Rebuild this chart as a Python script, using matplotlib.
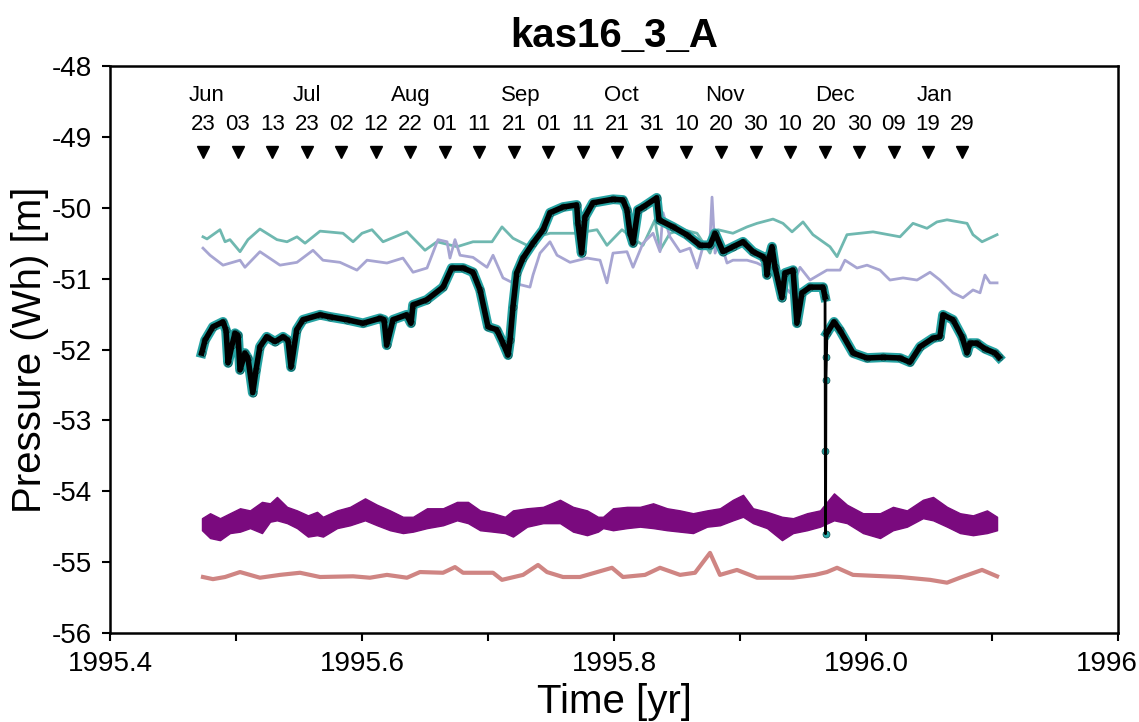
import numpy as np
import pandas as pd
import matplotlib
matplotlib.use("Agg")
import matplotlib.pyplot as plt

plt.rcParams['font.family'] = ['Liberation Sans', 'DejaVu Sans']
plt.rcParams['axes.unicode_minus'] = False

# --- pressure records (decimal year, metres) ---
wh_t = [1995.4728, 1995.4754, 1995.4817, 1995.4897, 1995.4921, 1995.4937, 1995.4968, 1995.4992,
        1995.5016, 1995.5032, 1995.5071, 1995.5095, 1995.5133, 1995.5159, 1995.5190, 1995.5244,
        1995.5310, 1995.5373, 1995.5413, 1995.5437, 1995.5482, 1995.5532, 1995.5667, 1995.5746,
        1995.5879, 1995.6008, 1995.6143, 1995.6175, 1995.6196, 1995.6246, 1995.6354, 1995.6389,
        1995.6405, 1995.6513, 1995.6643, 1995.6712, 1995.6802, 1995.6881, 1995.6937, 1995.7000,
        1995.7069, 1995.7119, 1995.7159, 1995.7175, 1995.7198, 1995.7228, 1995.7278, 1995.7357,
        1995.7437, 1995.7492, 1995.7595, 1995.7704, 1995.7714, 1995.7743, 1995.7770, 1995.7833,
        1995.7992, 1995.8071, 1995.8103, 1995.8127, 1995.8151, 1995.8190, 1995.8230, 1995.8339,
        1995.8357, 1995.8468, 1995.8577, 1995.8683, 1995.8762, 1995.8802, 1995.8865, 1995.8944,
        1995.9024, 1995.9103, 1995.9183, 1995.9206, 1995.9214, 1995.9230, 1995.9254, 1995.9278,
        1995.9333, 1995.9357, 1995.9421, 1995.9452, 1995.9492, 1995.9556, 1995.9659, 1995.9675,
        1995.9677, 1995.9679, 1995.9682, 1995.9686, 1995.9690, 1995.9746, 1995.9794, 1995.9897,
        1996.0008, 1996.0135, 1996.0270, 1996.0349, 1996.0429, 1996.0532, 1996.0587, 1996.0611,
        1996.0690, 1996.0762, 1996.0802, 1996.0825, 1996.0881, 1996.0944, 1996.1024, 1996.1055]
wh_p = [-52.05, -51.87, -51.68, -51.61, -51.73, -52.19, -51.94, -51.77,
        -51.80, -52.29, -52.05, -52.12, -52.61, -52.29, -51.96, -51.82,
        -51.89, -51.82, -51.87, -52.25, -51.72, -51.58, -51.51, -51.54,
        -51.58, -51.63, -51.56, -51.58, -51.94, -51.58, -51.51, -51.63,
        -51.37, -51.30, -51.12, -50.85, -50.85, -50.91, -51.16, -51.68,
        -51.72, -51.91, -52.08, -51.87, -51.40, -50.92, -50.71, -50.50,
        -50.31, -50.07, -49.99, -49.96, -50.22, -50.64, -50.13, -49.93,
        -49.88, -49.89, -50.03, -50.36, -50.50, -50.03, -49.99, -49.86,
        -50.17, -50.27, -50.38, -50.53, -50.53, -50.36, -50.62, -50.55,
        -50.48, -50.62, -50.69, -50.76, -50.95, -50.71, -50.55, -50.84,
        -51.27, -50.92, -50.88, -51.63, -51.20, -51.12, -51.12, -51.26,
        -53.43, -54.60, -52.43, -52.10, -51.77, -51.61, -51.73, -52.05,
        -52.12, -52.11, -52.12, -52.18, -51.96, -51.84, -51.82, -51.51,
        -51.58, -51.82, -52.05, -51.91, -51.91, -51.99, -52.05, -52.11]

teal_t = [1995.4738, 1995.4770, 1995.4873, 1995.4913, 1995.4952, 1995.5032, 1995.5095, 1995.5190,
          1995.5325, 1995.5405, 1995.5484, 1995.5548, 1995.5667, 1995.5849, 1995.5929, 1995.6000,
          1995.6079, 1995.6167, 1995.6357, 1995.6500, 1995.6595, 1995.6754, 1995.6881, 1995.7032,
          1995.7111, 1995.7198, 1995.7333, 1995.7389, 1995.7492, 1995.7706, 1995.7865, 1995.7944,
          1995.8063, 1995.8151, 1995.8230, 1995.8325, 1995.8365, 1995.8444, 1995.8548, 1995.8659,
          1995.8762, 1995.8825, 1995.8944, 1995.9056, 1995.9135, 1995.9262, 1995.9341, 1995.9413,
          1995.9500, 1995.9579, 1995.9714, 1995.9770, 1995.9849, 1995.9952, 1996.0056, 1996.0270,
          1996.0373, 1996.0484, 1996.0563, 1996.0643, 1996.0802, 1996.0849, 1996.0921, 1996.1040]
teal_p = [-50.41, -50.44, -50.31, -50.48, -50.45, -50.62, -50.45, -50.30,
          -50.45, -50.48, -50.41, -50.50, -50.33, -50.36, -50.48, -50.36,
          -50.31, -50.48, -50.34, -50.60, -50.48, -50.55, -50.48, -50.48,
          -50.27, -50.43, -50.55, -50.41, -50.36, -50.36, -50.31, -50.53,
          -50.31, -50.43, -50.53, -50.17, -50.60, -50.36, -50.31, -50.36,
          -50.64, -50.31, -50.36, -50.27, -50.22, -50.16, -50.22, -50.34,
          -50.20, -50.38, -50.55, -50.69, -50.38, -50.36, -50.34, -50.41,
          -50.22, -50.29, -50.20, -50.17, -50.22, -50.38, -50.48, -50.38]

lav_t = [1995.4738, 1995.4794, 1995.4897, 1995.5032, 1995.5071, 1995.5190, 1995.5349, 1995.5484,
         1995.5611, 1995.5690, 1995.5825, 1995.5960, 1995.6040, 1995.6198, 1995.6325, 1995.6405,
         1995.6516, 1995.6603, 1995.6675, 1995.6698, 1995.6738, 1995.6778, 1995.6881, 1995.6992,
         1995.7040, 1995.7119, 1995.7198, 1995.7333, 1995.7357, 1995.7413, 1995.7492, 1995.7548,
         1995.7651, 1995.7786, 1995.7889, 1995.7944, 1995.7992, 1995.8103, 1995.8151, 1995.8230,
         1995.8310, 1995.8365, 1995.8389, 1995.8444, 1995.8524, 1995.8603, 1995.8659, 1995.8706,
         1995.8762, 1995.8778, 1995.8802, 1995.8841, 1995.8897, 1995.8944, 1995.9056, 1995.9135,
         1995.9214, 1995.9294, 1995.9397, 1995.9476, 1995.9556, 1995.9690, 1995.9794, 1995.9833,
         1995.9929, 1996.0008, 1996.0111, 1996.0190, 1996.0294, 1996.0405, 1996.0508, 1996.0587,
         1996.0690, 1996.0770, 1996.0849, 1996.0905, 1996.0944, 1996.0984, 1996.1040]
lav_p = [-50.57, -50.67, -50.81, -50.74, -50.84, -50.62, -50.81, -50.77,
         -50.60, -50.74, -50.77, -50.88, -50.74, -50.78, -50.71, -50.91,
         -50.85, -50.45, -50.48, -50.71, -50.45, -50.67, -50.70, -50.84,
         -50.67, -50.99, -51.06, -51.12, -50.95, -50.64, -50.48, -50.67,
         -50.77, -50.71, -50.74, -51.06, -50.64, -50.62, -50.84, -50.50,
         -50.36, -50.62, -50.07, -50.41, -50.62, -50.57, -50.85, -50.55,
         -50.45, -49.85, -50.64, -50.45, -50.78, -50.74, -50.74, -50.78,
         -50.85, -50.98, -51.20, -50.84, -51.02, -50.88, -50.88, -50.74,
         -50.85, -50.81, -50.88, -51.02, -50.99, -51.02, -50.91, -51.02,
         -51.20, -51.27, -51.16, -51.20, -50.95, -51.06, -51.06]

purp_t = [1995.4730, 1995.4794, 1995.4873, 1995.4952, 1995.5032, 1995.5111, 1995.5206, 1995.5270,
          1995.5325, 1995.5405, 1995.5484, 1995.5571, 1995.5643, 1995.5690, 1995.5802, 1995.5905,
          1995.6024, 1995.6119, 1995.6222, 1995.6325, 1995.6405, 1995.6516, 1995.6643, 1995.6754,
          1995.6841, 1995.6937, 1995.7040, 1995.7135, 1995.7198, 1995.7310, 1995.7437, 1995.7571,
          1995.7675, 1995.7786, 1995.7873, 1995.7913, 1995.7992, 1995.8103, 1995.8206, 1995.8310,
          1995.8421, 1995.8524, 1995.8627, 1995.8738, 1995.8841, 1995.8944, 1995.9024, 1995.9103,
          1995.9214, 1995.9333, 1995.9421, 1995.9532, 1995.9635, 1995.9746, 1995.9849, 1995.9976,
          1996.0111, 1996.0214, 1996.0325, 1996.0452, 1996.0532, 1996.0643, 1996.0746, 1996.0849,
          1996.0960, 1996.1040]
purp_hi = [-54.38, -54.31, -54.38, -54.31, -54.24, -54.27, -54.15, -54.17,
           -54.08, -54.22, -54.27, -54.34, -54.29, -54.36, -54.27, -54.22,
           -54.10, -54.19, -54.27, -54.36, -54.36, -54.24, -54.24, -54.15,
           -54.15, -54.27, -54.31, -54.36, -54.27, -54.24, -54.22, -54.12,
           -54.22, -54.27, -54.36, -54.36, -54.24, -54.22, -54.22, -54.17,
           -54.24, -54.27, -54.31, -54.27, -54.24, -54.12, -54.05, -54.24,
           -54.29, -54.36, -54.38, -54.31, -54.27, -54.03, -54.19, -54.31,
           -54.31, -54.22, -54.27, -54.12, -54.08, -54.22, -54.31, -54.34,
           -54.27, -54.36]
purp_lo = [-54.55, -54.66, -54.69, -54.59, -54.57, -54.52, -54.59, -54.43,
           -54.41, -54.45, -54.52, -54.64, -54.62, -54.64, -54.52, -54.48,
           -54.41, -54.48, -54.55, -54.59, -54.57, -54.52, -54.48, -54.41,
           -54.45, -54.55, -54.57, -54.59, -54.64, -54.50, -54.45, -54.45,
           -54.57, -54.62, -54.57, -54.52, -54.55, -54.52, -54.50, -54.52,
           -54.55, -54.57, -54.59, -54.50, -54.48, -54.41, -54.36, -54.45,
           -54.52, -54.69, -54.59, -54.55, -54.50, -54.41, -54.45, -54.59,
           -54.66, -54.55, -54.50, -54.38, -54.41, -54.50, -54.59, -54.62,
           -54.59, -54.55]

rose_t = [1995.4738, 1995.4817, 1995.4913, 1995.5032, 1995.5190, 1995.5349, 1995.5508, 1995.5667,
          1995.5929, 1995.6063, 1995.6198, 1995.6357, 1995.6460, 1995.6643, 1995.6738, 1995.6802,
          1995.7040, 1995.7111, 1995.7278, 1995.7397, 1995.7468, 1995.7595, 1995.7730, 1995.7984,
          1995.8071, 1995.8246, 1995.8365, 1995.8524, 1995.8643, 1995.8762, 1995.8841, 1995.8976,
          1995.9135, 1995.9421, 1995.9595, 1995.9690, 1995.9770, 1995.9897, 1996.0270, 1996.0508,
          1996.0643, 1996.0746, 1996.0921, 1996.1040]
rose_p = [-55.21, -55.24, -55.21, -55.14, -55.22, -55.18, -55.15, -55.21,
          -55.20, -55.22, -55.18, -55.22, -55.14, -55.15, -55.07, -55.15,
          -55.15, -55.25, -55.18, -55.04, -55.14, -55.21, -55.21, -55.08,
          -55.21, -55.18, -55.08, -55.18, -55.15, -54.87, -55.18, -55.11,
          -55.22, -55.22, -55.18, -55.14, -55.08, -55.18, -55.21, -55.25,
          -55.29, -55.22, -55.11, -55.20]

# 10-day date markers along the top
marker_dates = pd.date_range('1995-06-23', periods=23, freq='10D')
month_dates = pd.to_datetime(['1995-06-24', '1995-07-23', '1995-08-22', '1995-09-23',
                              '1995-10-22', '1995-11-21', '1995-12-23', '1996-01-21'])


def decimal_year(d):
    days = np.where(d.is_leap_year, 366.0, 365.0)
    return d.year + (d.dayofyear - 1) / days


fig = plt.figure(figsize=(11.39, 7.22), dpi=100)
ax = fig.add_axes([110 / 1139, 89 / 722, 1008 / 1139, 567 / 722])

ax.plot(teal_t, teal_p, color='#6fb8b0', lw=2.0, zorder=2)
ax.plot(lav_t, lav_p, color='#a7a5d2', lw=2.0, zorder=2)
ax.fill_between(purp_t, purp_lo, purp_hi, color='#7a0a7e', lw=1.0, edgecolor='#7a0a7e', zorder=2)
ax.plot(rose_t, rose_p, color='#cf8583', lw=3.0, zorder=2)

# main record: cyan halo and dots under a black trace, halo left off the sharp drop
wh_t = np.array(wh_t)
wh_p = np.array(wh_p)
halo = wh_p.copy()
halo[(wh_t > 1995.9676) & (wh_t < 1995.9688)] = np.nan
ax.plot(wh_t, halo, color='#25a3a3', lw=7, solid_joinstyle='round', zorder=3)
ax.plot(wh_t, wh_p, 'o', ms=5, mfc='#25a8a8', mec='#104848', mew=0.5, zorder=3)
core = wh_p.copy()
ax.plot(wh_t, core, color='black', lw=2.0, zorder=4)
core[np.isnan(halo)] = np.nan
ax.plot(wh_t, core, color='black', lw=4.0, solid_joinstyle='round', zorder=4)

# date annotations
mx = decimal_year(marker_dates)
ax.plot(mx, np.full(len(mx), -49.21), 'v', color='black', ms=9, ls='none', zorder=5)
for x, d in zip(mx, marker_dates):
    ax.text(x, -48.83, d.strftime('%d'), ha='center', va='center', fontsize=16)
for x, d in zip(decimal_year(month_dates), month_dates):
    ax.text(x, -48.42, d.strftime('%b'), ha='center', va='center', fontsize=16)

ax.set_xlim(1995.4, 1996.2)
ax.set_ylim(-56, -48)
ax.set_xticks(np.arange(1995.4, 1996.21, 0.2))
ax.set_xticklabels(['1995.4', '1995.6', '1995.8', '1996.0', '1996.2'])
ax.set_xticks(np.arange(1995.5, 1996.2, 0.2), minor=True)
ax.set_yticks(np.arange(-56, -47.9, 1))
ax.tick_params(axis='both', which='both', direction='out', length=6, width=1.5,
               labelsize=20, pad=7)
for s in ax.spines.values():
    s.set_linewidth(1.8)

ax.set_xlabel('Time [yr]', fontsize=29, labelpad=4)
ax.set_ylabel('Pressure (Wh) [m]', fontsize=29, labelpad=2)
ax.set_title('kas16_3_A', fontsize=29, fontweight='bold', pad=14)

fig.savefig('out.png', dpi=100)
